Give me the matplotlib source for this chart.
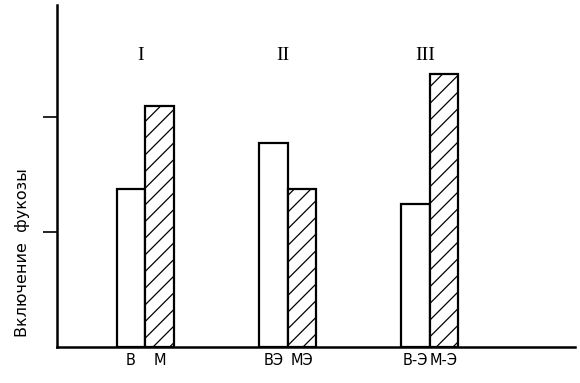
import matplotlib
matplotlib.use('Agg')
import matplotlib.pyplot as plt
import numpy as np

# groups and values (y ticks at 1 and 2)
groups = ['I', 'II', 'III']
open_vals = [1.37, 1.77, 1.24]
hatched_vals = [2.09, 1.37, 2.37]
open_labels = ['В', 'ВЭ', 'В-Э']
hatched_labels = ['М', 'МЭ', 'М-Э']

plt.rcParams['hatch.linewidth'] = 0.9

fig = plt.figure(figsize=(5.8, 3.83), dpi=100)
ax = fig.add_axes([0.0983, 0.094, 0.893, 0.893])

x = np.arange(1, len(groups) + 1)
w = 0.2
ax.bar(x - w / 2, open_vals, w, color='white', edgecolor='black', linewidth=1.6, zorder=2)
ax.bar(x + w / 2, hatched_vals, w, color='white', edgecolor='black', linewidth=1.6,
       hatch='//', zorder=3)

for xi, g in zip(x, groups):
    ax.text(xi - 0.03, 2.53, g, ha='center', va='center', fontsize=14,
            family='Liberation Serif')

ax.set_xticks(list(x - w / 2) + list(x + w / 2))
ax.set_xticklabels(open_labels + hatched_labels, fontsize=10.5)
ax.tick_params(axis='x', length=0, pad=4)

ax.set_yticks([1, 2])
ax.set_yticklabels([])
ax.tick_params(axis='y', direction='out', length=10, width=1.2)

ax.set_xlim(0.38, 4.02)
ax.set_ylim(0, 2.97)
for s in ['top', 'right']:
    ax.spines[s].set_visible(False)
for s in ['left', 'bottom']:
    ax.spines[s].set_linewidth(1.8)

fig.text(0.038, 0.34, 'Включение  фукозы', rotation=90, ha='center', va='center',
         fontsize=11.5)

fig.savefig('out.png', dpi=100)
